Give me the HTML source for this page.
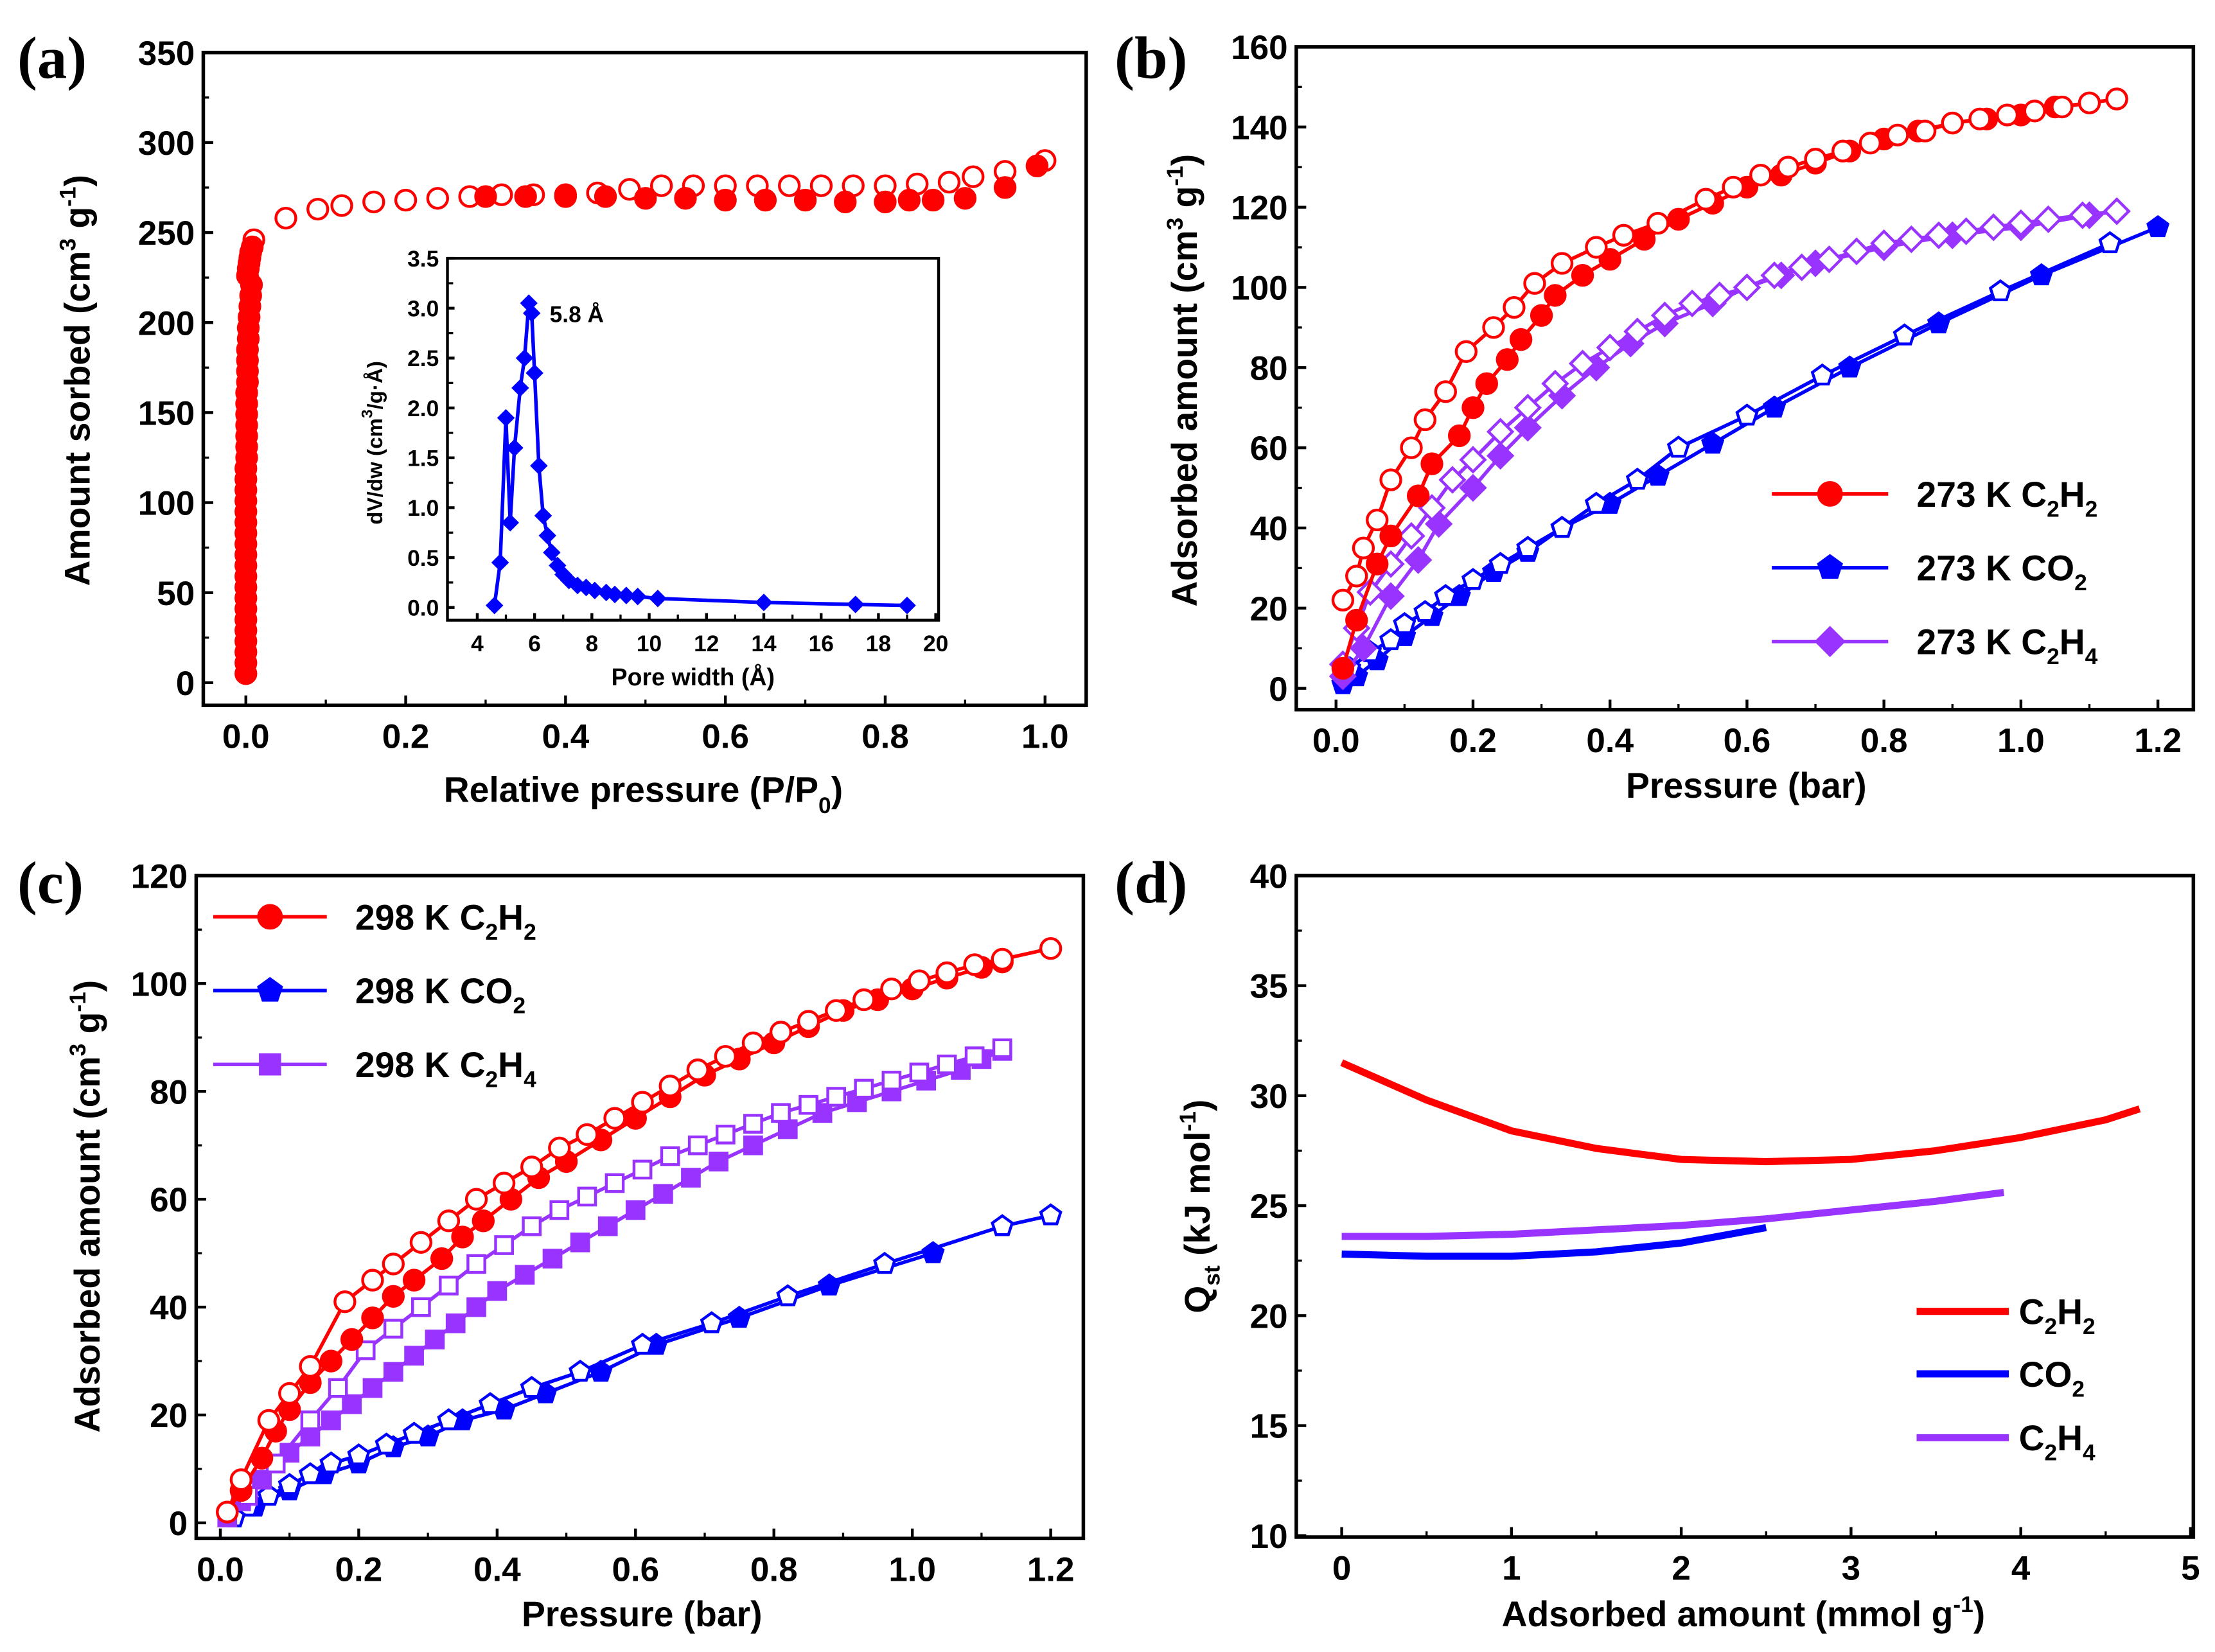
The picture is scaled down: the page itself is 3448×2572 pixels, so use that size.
<!DOCTYPE html>
<html><head><meta charset="utf-8"><style>
html,body{margin:0;padding:0;background:#fff}
svg{display:block}
text{font-family:"Liberation Sans",sans-serif;font-weight:bold;fill:#000}
.pl{font-family:"Liberation Serif",serif;font-size:42px}
</style></head><body>
<svg id="s" width="3448" height="2572" viewBox="0 0 1560 1164" xmlns="http://www.w3.org/2000/svg">
<text class="pl" x="12" y="55">(a)</text>
<text class="pl" x="785" y="55">(b)</text>
<text class="pl" x="12" y="636">(c)</text>
<text class="pl" x="785" y="636">(d)</text>
</svg>
<script>
// ---------- data ----------
const aAdsX=[0.0,0.0,0.0,0.0,0.0,0.0,0.0,0.0,0.0,0.0,0.0,0.0,0.0,0.0,0.0,0.0,0.0,0.0,0.0,0.0,0.001,0.001,0.001,0.001,0.001,0.001,0.001,0.002,0.002,0.002,0.002,0.003,0.003,0.004,0.005,0.006,0.007,0.3,0.35,0.4,0.45,0.5,0.55,0.6,0.65,0.7,0.75,0.8,0.83,0.86,0.9,0.95,0.99];
const aAdsY=[5,11,17,23,29,35,41,47,53,59,65,71,77,83,89,95,101,107,113,119,125,131,137,143,149,155,161,167,173,179,185,191,197,203,209,215,221,270,270,270,270,269,269,268,268,268,267,267,268,268,269,275,287];
const aAds2X=[0.002,0.003,0.004,0.005,0.006,0.008];
const aAds2Y=[226,230,233,236,239,242];
const aDesX=[0.01,0.05,0.09,0.12,0.16,0.2,0.24,0.28,0.32,0.36,0.4,0.44,0.48,0.52,0.56,0.6,0.64,0.68,0.72,0.76,0.8,0.84,0.88,0.91,0.95,1.0];
const aDesY=[246,258,263,265,267,268,269,270,271,271,271,272,274,276,276,276,276,276,276,276,276,277,278,281,284,290];
const insX=[4.6,4.8,5.0,5.15,5.3,5.5,5.65,5.8,5.9,6.0,6.15,6.3,6.45,6.6,6.8,7.0,7.2,7.5,7.8,8.1,8.5,8.8,9.2,9.6,10.3,14,17.2,19];
const insY=[0.02,0.45,1.9,0.85,1.6,2.2,2.5,3.05,2.95,2.35,1.42,0.92,0.72,0.55,0.42,0.33,0.27,0.22,0.2,0.17,0.15,0.13,0.12,0.11,0.09,0.05,0.03,0.02];
const bC2H2adsX=[0.01,0.03,0.06,0.08,0.12,0.14,0.18,0.2,0.22,0.25,0.27,0.3,0.32,0.36,0.4,0.45,0.5,0.55,0.6,0.65,0.7,0.75,0.8,0.85,0.9,0.95,1.0,1.05,1.1,1.14];
const bC2H2adsY=[5,17,31,38,48,56,63,70,76,82,87,93,98,103,107,112,117,121,125,128,131,134,137,139,141,142,143,145,146,147];
const bC2H2desX=[1.14,1.1,1.06,1.02,0.98,0.94,0.9,0.86,0.82,0.78,0.74,0.7,0.66,0.62,0.58,0.54,0.47,0.42,0.38,0.33,0.29,0.26,0.23,0.19,0.16,0.13,0.11,0.08,0.06,0.04,0.03,0.01];
const bC2H2desY=[147,146,145,144,143,142,141,139,138,136,134,132,130,128,125,122,116,113,110,106,101,95,90,84,74,67,60,52,42,35,28,22];
const bCO2adsX=[0.01,0.03,0.06,0.1,0.14,0.18,0.23,0.28,0.33,0.4,0.47,0.55,0.64,0.75,0.88,1.03,1.2];
const bCO2adsY=[1,3,7,13,18,23,29,34,40,46,53,61,70,80,91,103,115];
const bCO2desX=[1.13,0.97,0.83,0.71,0.6,0.5,0.44,0.38,0.33,0.28,0.24,0.2,0.16,0.13,0.1,0.08,0.05,0.02];
const bCO2desY=[111,99,88,78,68,60,52,46,40,35,31,27,23,19,16,12,9,5];
const bC2H4adsX=[0.01,0.04,0.08,0.12,0.15,0.2,0.24,0.28,0.33,0.38,0.43,0.48,0.55,0.6,0.65,0.7,0.8,0.9,1.0,1.1,1.14];
const bC2H4adsY=[3,10,23,32,41,50,58,65,73,80,86,91,96,100,103,106,110,113,115,118,119];
const bC2H4desX=[1.14,1.09,1.04,1.0,0.96,0.92,0.88,0.84,0.8,0.76,0.72,0.68,0.64,0.6,0.56,0.52,0.48,0.44,0.4,0.36,0.32,0.28,0.24,0.2,0.17,0.14,0.11,0.08,0.05,0.03,0.01];
const bC2H4desY=[119,118,117,116,115,114,113,112,111,109,107,105,103,100,98,96,93,89,85,81,76,70,64,57,52,45,38,31,24,15,6];
const cC2H2adsX=[0.01,0.03,0.06,0.08,0.1,0.13,0.16,0.19,0.22,0.25,0.28,0.32,0.35,0.38,0.42,0.46,0.5,0.55,0.6,0.65,0.7,0.75,0.8,0.85,0.9,0.95,1.0,1.05,1.1,1.13];
const cC2H2adsY=[2,6,12,17,21,26,30,34,38,42,45,49,53,56,60,64,67,71,75,79,83,86,89,92,95,97,99,101,103,104];
const cC2H2desX=[1.2,1.13,1.09,1.05,1.01,0.97,0.93,0.89,0.85,0.81,0.77,0.73,0.69,0.65,0.61,0.57,0.53,0.49,0.45,0.41,0.37,0.33,0.29,0.25,0.22,0.18,0.13,0.1,0.07,0.03,0.01];
const cC2H2desY=[106.5,104.5,103.5,102,100.5,99,97,95,93,91,89,86.5,84,81,78,75,72,69.5,66,63,60,56,52,48,45,41,29,24,19,8,2];
const cCO2adsX=[0.02,0.05,0.1,0.15,0.2,0.25,0.3,0.35,0.41,0.47,0.55,0.63,0.75,0.88,1.03];
const cCO2adsY=[1,3,6,9,11,14,16,19,21,24,28,33,38,44,50];
const cCO2desX=[1.2,1.13,0.96,0.82,0.71,0.61,0.52,0.45,0.39,0.33,0.28,0.24,0.2,0.16,0.13,0.1,0.07,0.04,0.02];
const cCO2desY=[57,55,48,42,37,33,28,25,22,19,16.5,14.5,12.5,11,9,7,5,3,1];
const cC2H4adsX=[0.01,0.03,0.06,0.1,0.13,0.16,0.19,0.22,0.25,0.28,0.31,0.34,0.37,0.4,0.44,0.48,0.52,0.56,0.6,0.64,0.68,0.72,0.77,0.82,0.87,0.92,0.97,1.02,1.07,1.1,1.13];
const cC2H4adsY=[1,4,8,13,16,19,22,25,28,31,34,37,40,43,46,49,52,55,58,61,64,67,70,73,76,78,80,82,84,86,87.5];
const cC2H4desX=[1.13,1.09,1.05,1.01,0.97,0.93,0.89,0.85,0.81,0.77,0.73,0.69,0.65,0.61,0.57,0.53,0.49,0.45,0.41,0.37,0.33,0.29,0.25,0.21,0.17,0.13,0.08,0.04];
const cC2H4desY=[88,86.5,85,83.5,82,80.5,79,77.5,76,74,72,70,68,65.5,63,60.5,58,55,51.5,48,44,40,36,32,25,19,11,5];
const dX1=[0,0.5,1,1.5,2,2.5,3,3.5,4,4.5,4.7];
const dC2H2=[31.5,29.8,28.4,27.6,27.1,27.0,27.1,27.5,28.1,28.9,29.4];
const dX2=[0,0.5,1,1.5,2,2.5];
const dCO2=[22.8,22.7,22.7,22.9,23.3,24.0];
const dX3=[0,0.5,1,1.5,2,2.5,3,3.5,3.9];
const dC2H4=[23.6,23.6,23.7,23.9,24.1,24.4,24.8,25.2,25.6];
// ---------- helpers ----------
const NS="http://www.w3.org/2000/svg", S=document.getElementById('s');
function el(t,a,p){const e=document.createElementNS(NS,t);for(const k in a)e.setAttribute(k,a[k]);(p||S).appendChild(e);return e;}
function txt(x,y,s,size,anchor,name){const e=el('text',{x:x,y:y,'font-size':size,'text-anchor':anchor||'middle'});e.innerHTML=s;


return e;}
const R='#ff0000',B='#0000ff',P='#9933ff';
function axes(o){
 const g=el('g',{});
 
 
 const fx=v=>o.x0+(v-o.xa)/(o.xb-o.xa)*(o.x1-o.x0), fy=v=>o.y1-(v-o.ya)/(o.yb-o.ya)*(o.y1-o.y0);
 el('rect',{x:o.L,y:o.T,width:o.Rt-o.L,height:o.Bt-o.T,fill:'none',stroke:'#000','stroke-width':o.sw||2.5},g);
 o.xt.forEach((v,i)=>{const x=fx(v);el('line',{x1:x,y1:o.Bt,x2:x,y2:o.Bt-(o.tl||7),stroke:'#000','stroke-width':2},g);
  if(o.xm){const xm=fx(v+o.xm);if(xm<o.Rt)el('line',{x1:xm,y1:o.Bt,x2:xm,y2:o.Bt-4,stroke:'#000','stroke-width':1.5},g);}
  const t=txt(x,o.Bt+(o.fs||24)+6,o.xl[i],o.fs||24,'middle','x-tick-label');g.appendChild(t);});
 o.yt.forEach((v,i)=>{const y=fy(v);el('line',{x1:o.L,y1:y,x2:o.L+(o.tl||7),y2:y,stroke:'#000','stroke-width':2},g);
  if(o.ym){const ym=fy(v+o.ym);if(ym>o.T)el('line',{x1:o.L,y1:ym,x2:o.L+4,y2:ym,stroke:'#000','stroke-width':1.5},g);}
  const t=txt(o.L-6,y+(o.fs||24)*0.36,o.yl[i],o.fs||24,'end','y-tick-label');g.appendChild(t);});
 return {fx,fy,g};
}
function series(ax,xs,ys,col,mk,fill,line,name,r){
 const g=el('g',{});
 
 
 if(line)el('polyline',{points:xs.map((x,i)=>ax.fx(x)+','+ax.fy(ys[i])).join(' '),fill:'none',stroke:col,'stroke-width':2.5},g);
 xs.forEach((x,i)=>marker(g,ax.fx(x),ax.fy(ys[i]),mk,col,fill,r||7,name+'-point'));
}
function marker(g,x,y,mk,col,fill,r,name){
 const a={fill:fill?col:'#fff',stroke:col,'stroke-width':2};let e;
 if(mk==='c'){a.cx=x;a.cy=y;a.r=r;e=el('circle',a,g);}
 else if(mk==='s'){a.x=x-r*0.85;a.y=y-r*0.85;a.width=r*1.7;a.height=r*1.7;e=el('rect',a,g);}
 else{let pts=[];if(mk==='d')pts=[[0,-1.2],[1.2,0],[0,1.2],[-1.2,0]];else for(let k=0;k<5;k++){const t=-Math.PI/2+k*2*Math.PI/5;pts.push([Math.cos(t)*1.05,Math.sin(t)*1.05]);}
  a.points=pts.map(p=>(x+p[0]*r)+','+(y+p[1]*r)).join(' ');e=el('polygon',a,g);}
 
 
}
// ---------- panel a ----------
const A=axes({name:'panel-a-axes',L:143,T:37,Rt:765,Bt:497,x0:173,x1:736,xa:0,xb:1,y0:37,y1:481,ya:0,yb:350,
 xt:[0,0.2,0.4,0.6,0.8,1.0],xl:['0.0','0.2','0.4','0.6','0.8','1.0'],xm:0.1,yt:[0,50,100,150,200,250,300,350],yl:['0','50','100','150','200','250','300','350'],ym:25});
series(A,aDesX,aDesY,R,'c',false,false,'a-desorption',7);
series(A,aAdsX,aAdsY,R,'c',true,false,'a-adsorption',7);
series(A,aAds2X,aAds2Y,R,'c',true,false,'a-adsorption-knee',7);
txt(453,565,'Relative pressure (P/P<tspan font-size="16" dy="8">0</tspan><tspan dy="-8">)</tspan>',25,'middle','a-x-axis-title');
txt(0,0,'Amount sorbed (cm<tspan font-size="16" dy="-10">3</tspan><tspan dy="10"> g</tspan><tspan font-size="16" dy="-10">-1</tspan><tspan dy="10">)</tspan>',25,'middle','a-y-axis-title').setAttribute('transform','translate(63,268) rotate(-90)');
const I=axes({name:'inset-axes',L:315,T:182,Rt:661,Bt:437,x0:336,x1:659,xa:4,xb:20,y0:182,y1:428,ya:0,yb:3.5,sw:2,tl:5,fs:16,
 xt:[4,6,8,10,12,14,16,18,20],xl:['4','6','8','10','12','14','16','18','20'],xm:1,yt:[0,0.5,1,1.5,2,2.5,3,3.5],yl:['0.0','0.5','1.0','1.5','2.0','2.5','3.0','3.5'],ym:0.25});
series(I,insX,insY,B,'d',true,true,'inset-pore-distribution',4);
txt(387,227,'5.8 Å',16,'start','peak-annotation');
txt(488,483,'Pore width (Å)',17,'middle','inset-x-axis-title');
txt(0,0,'dV/dw (cm<tspan font-size="11" dy="-7">3</tspan><tspan dy="7">/g·Å)</tspan>',15,'middle','inset-y-axis-title').setAttribute('transform','translate(269,312) rotate(-90)');
// ---------- panel b ----------
const Bx=axes({name:'panel-b-axes',L:913,T:33,Rt:1545,Bt:500,x0:941,x1:1520,xa:0,xb:1.2,y0:33,y1:485,ya:0,yb:160,
 xt:[0,0.2,0.4,0.6,0.8,1.0,1.2],xl:['0.0','0.2','0.4','0.6','0.8','1.0','1.2'],xm:0.1,yt:[0,20,40,60,80,100,120,140,160],yl:['0','20','40','60','80','100','120','140','160'],ym:10});
series(Bx,bCO2adsX,bCO2adsY,B,'p',true,true,'b-co2-adsorption');
series(Bx,bCO2desX,bCO2desY,B,'p',false,true,'b-co2-desorption');
series(Bx,bC2H4adsX,bC2H4adsY,P,'d',true,true,'b-c2h4-adsorption');
series(Bx,bC2H4desX,bC2H4desY,P,'d',false,true,'b-c2h4-desorption');
series(Bx,bC2H2adsX,bC2H2adsY,R,'c',true,true,'b-c2h2-adsorption');
series(Bx,bC2H2desX,bC2H2desY,R,'c',false,true,'b-c2h2-desorption');
txt(1230,562,'Pressure (bar)',25,'middle','b-x-axis-title');
txt(0,0,'Adsorbed amount (cm<tspan font-size="16" dy="-10">3</tspan><tspan dy="10"> g</tspan><tspan font-size="16" dy="-10">-1</tspan><tspan dy="10">)</tspan>',25,'middle','b-y-axis-title').setAttribute('transform','translate(843,268) rotate(-90)');
function legend(x1,x2,tx,y,col,mk,label,name,fs){const g=el('g',{});
 
 
 el('line',{x1:x1,y1:y,x2:x2,y2:y,stroke:col,'stroke-width':mk?2.5:5},g);
 if(mk)marker(g,(x1+x2)/2,y,mk,col,true,8,name+'-marker');
 const t=txt(tx,y+9,label,fs||25,'start',name+'-label');g.appendChild(t);}
const sub=s=>'<tspan font-size="16" dy="7">'+s+'</tspan><tspan dy="-7">';
legend(1248,1330,1350,348,R,'c','273 K C'+sub(2)+'H</tspan>'+sub(2)+'</tspan>','legend-b-c2h2');
legend(1248,1330,1350,400,B,'p','273 K CO'+sub(2)+'</tspan>','legend-b-co2');
legend(1248,1330,1350,452,P,'d','273 K C'+sub(2)+'H</tspan>'+sub(4)+'</tspan>','legend-b-c2h4');
// ---------- panel c ----------
const C=axes({name:'panel-c-axes',L:138,T:617,Rt:763,Bt:1084,x0:155,x1:740,xa:0,xb:1.2,y0:617,y1:1073,ya:0,yb:120,
 xt:[0,0.2,0.4,0.6,0.8,1.0,1.2],xl:['0.0','0.2','0.4','0.6','0.8','1.0','1.2'],xm:0.1,yt:[0,20,40,60,80,100,120],yl:['0','20','40','60','80','100','120'],ym:10});
series(C,cCO2adsX,cCO2adsY,B,'p',true,true,'c-co2-adsorption');
series(C,cCO2desX,cCO2desY,B,'p',false,true,'c-co2-desorption');
series(C,cC2H4adsX,cC2H4adsY,P,'s',true,true,'c-c2h4-adsorption');
series(C,cC2H4desX,cC2H4desY,P,'s',false,true,'c-c2h4-desorption');
series(C,cC2H2adsX,cC2H2adsY,R,'c',true,true,'c-c2h2-adsorption');
series(C,cC2H2desX,cC2H2desY,R,'c',false,true,'c-c2h2-desorption');
txt(452,1146,'Pressure (bar)',25,'middle','c-x-axis-title');
txt(0,0,'Adsorbed amount (cm<tspan font-size="16" dy="-10">3</tspan><tspan dy="10"> g</tspan><tspan font-size="16" dy="-10">-1</tspan><tspan dy="10">)</tspan>',25,'middle','c-y-axis-title').setAttribute('transform','translate(70,850) rotate(-90)');
legend(150,230,250,646,R,'c','298 K C'+sub(2)+'H</tspan>'+sub(2)+'</tspan>','legend-c-c2h2');
legend(150,230,250,698,B,'p','298 K CO'+sub(2)+'</tspan>','legend-c-co2');
legend(150,230,250,750,P,'s','298 K C'+sub(2)+'H</tspan>'+sub(4)+'</tspan>','legend-c-c2h4');
// ---------- panel d ----------
const D=axes({name:'panel-d-axes',L:913,T:617,Rt:1545,Bt:1083,x0:945,x1:1543,xa:0,xb:5,y0:617,y1:1082,ya:10,yb:40,
 xt:[0,1,2,3,4,5],xl:['0','1','2','3','4','5'],xm:0.5,yt:[10,15,20,25,30,35,40],yl:['10','15','20','25','30','35','40'],ym:2.5});
function curve(xs,ys,col,name){const p=el('path',{d:xs.map((x,i)=>(i?'L':'M')+D.fx(x)+','+D.fy(ys[i])).join(''),fill:'none',stroke:col,'stroke-width':5,'stroke-linejoin':'round'});
 
 }
curve(dX1,dC2H2,R,'d-c2h2-qst');curve(dX2,dCO2,B,'d-co2-qst');curve(dX3,dC2H4,P,'d-c2h4-qst');
txt(1228,1146,'Adsorbed amount (mmol g<tspan font-size="16" dy="-10">-1</tspan><tspan dy="10">)</tspan>',25,'middle','d-x-axis-title');
txt(0,0,'Q<tspan font-size="16" dy="7">st</tspan><tspan dy="-7"> (kJ mol</tspan><tspan font-size="16" dy="-10">-1</tspan><tspan dy="10">)</tspan>',25,'middle','d-y-axis-title').setAttribute('transform','translate(852,850) rotate(-90)');
legend(1350,1415,1422,924,R,null,'C'+sub(2)+'H</tspan>'+sub(2)+'</tspan>','legend-d-c2h2');
legend(1350,1415,1422,968,B,null,'CO'+sub(2)+'</tspan>','legend-d-co2');
legend(1350,1415,1422,1013,P,null,'C'+sub(2)+'H</tspan>'+sub(4)+'</tspan>','legend-d-c2h4');
</script>
</body></html>
